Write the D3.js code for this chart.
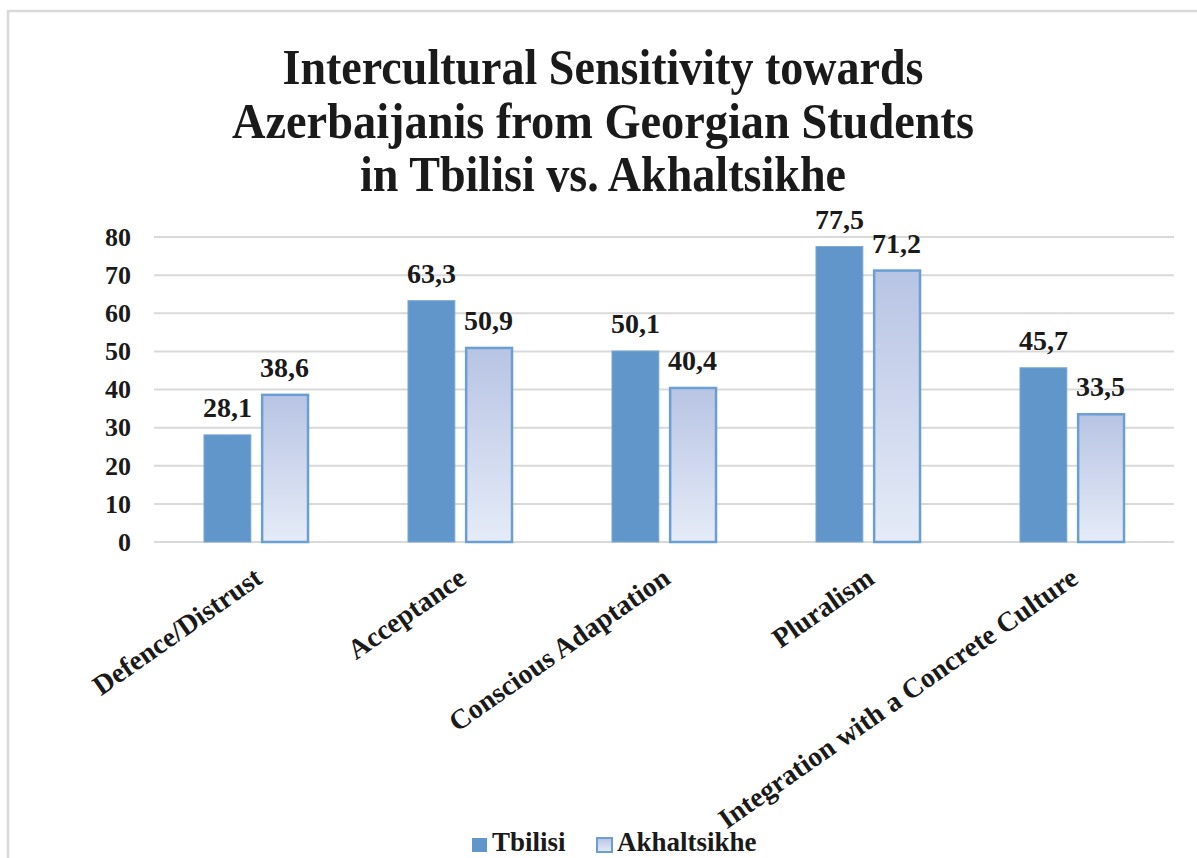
<!DOCTYPE html>
<html><head><meta charset="utf-8">
<script src="https://cdn.jsdelivr.net/npm/d3@7"></script>
<style>
html,body{margin:0;padding:0;background:#fff;}
text{font-family:"Liberation Serif","Times New Roman",serif;font-weight:bold;fill:#1a1a1a;}
</style></head>
<body>
<svg id="chart" width="1197" height="858"></svg>
<script>
const titleLines = ["Intercultural Sensitivity towards", "Azerbaijanis from Georgian Students", "in Tbilisi vs. Akhaltsikhe"];
const categories = ["Defence/Distrust", "Acceptance", "Conscious Adaptation", "Pluralism", "Integration with a Concrete Culture"];
const seriesNames = ["Tbilisi", "Akhaltsikhe"];
const tbilisi = [28.1, 63.3, 50.1, 77.5, 45.7];
const akhaltsikhe = [38.6, 50.9, 40.4, 71.2, 33.5];
const yTicks = [0, 10, 20, 30, 40, 50, 60, 70, 80];

const svg = d3.select("#chart");
const W = 1197, H = 858;
const plot = {left: 154, right: 1174, top: 237, bottom: 542};

const defs = svg.append("defs");
const grad = defs.append("linearGradient").attr("id", "akhGrad")
  .attr("x1", 0).attr("y1", 0).attr("x2", 0).attr("y2", 1);
grad.append("stop").attr("offset", "0%").attr("stop-color", "#b8c4e4");
grad.append("stop").attr("offset", "100%").attr("stop-color", "#e5ebf7");

// frame
svg.append("path").attr("d", `M8,${H} L8,11 L${W},11`).attr("fill", "none")
  .attr("stroke", "#d9d9d9").attr("stroke-width", 2.5);

// title
const titleBaselines = [84, 138, 191];
const titleWidths = [641, 742, 486];
titleLines.forEach((t, i) => {
  svg.append("text").attr("x", 603).attr("y", titleBaselines[i])
    .attr("text-anchor", "middle").attr("font-size", 51)
    .attr("textLength", titleWidths[i]).attr("lengthAdjust", "spacingAndGlyphs")
    .text(t);
});

const y = d3.scaleLinear().domain([0, 80]).range([plot.bottom, plot.top]);
const x0 = d3.scaleBand().domain(categories).range([plot.left, plot.right])
  .paddingInner(0.49).paddingOuter(0.245);
const x1 = d3.scaleBand().domain(seriesNames).range([0, x0.bandwidth()]).paddingInner(0.18);

// gridlines
svg.append("g").selectAll("line").data(yTicks).join("line")
  .attr("x1", plot.left).attr("x2", plot.right)
  .attr("y1", d => y(d)).attr("y2", d => y(d))
  .attr("stroke", "#d9d9d9").attr("stroke-width", 2);

// y axis labels
const yAxis = d3.axisLeft(y).tickValues(yTicks).tickSize(0).tickPadding(0).tickFormat(d3.format("d"));
const gy = svg.append("g").attr("transform", "translate(131,0)").call(yAxis);
gy.select(".domain").remove();
gy.selectAll("text").attr("font-size", 26).attr("fill", "#1a1a1a")
  .style("font-family", '"Liberation Serif","Times New Roman",serif').style("font-weight", "bold");

const fmt = v => d3.format(".1f")(v).replace(".", ",");
const data = categories.map((c, i) => ({cat: c, vals: [
  {s: "Tbilisi", v: tbilisi[i]}, {s: "Akhaltsikhe", v: akhaltsikhe[i]}]}));

const groups = svg.append("g").selectAll("g").data(data).join("g")
  .attr("transform", d => `translate(${x0(d.cat)},0)`);

groups.selectAll("rect").data(d => d.vals).join("rect")
  .attr("x", d => x1(d.s) + (d.s === "Akhaltsikhe" ? 1 : 0))
  .attr("width", d => x1.bandwidth() - (d.s === "Akhaltsikhe" ? 1 : 0))
  .attr("y", d => y(d.v))
  .attr("height", d => y(0) - y(d.v))
  .attr("fill", d => d.s === "Tbilisi" ? "#6096c9" : "url(#akhGrad)")
  .attr("stroke", d => d.s === "Tbilisi" ? "#7aa9d6" : "#6b9fd4")
  .attr("stroke-width", d => d.s === "Tbilisi" ? 1 : 2.5);

groups.selectAll("text.lbl").data(d => d.vals).join("text").attr("class", "lbl")
  .attr("x", d => x1(d.s) + x1.bandwidth() / 2)
  .attr("y", d => y(d.v) - 18)
  .attr("text-anchor", "middle").attr("font-size", 28)
  .text(d => fmt(d.v));

// x axis labels
const xAxis = d3.axisBottom(x0).tickSize(0).tickPadding(0);
const gx = svg.append("g").attr("transform", `translate(0,${plot.bottom})`).call(xAxis);
gx.select(".domain").remove();
gx.selectAll(".tick text")
  .attr("y", 0).attr("dy", 0)
  .attr("font-size", 28).attr("fill", "#1a1a1a")
  .style("font-family", '"Liberation Serif","Times New Roman",serif').style("font-weight", "bold")
  .attr("text-anchor", "end")
  .attr("transform", "translate(8,40) rotate(-35)");

// legend
const legend = svg.append("g");
const legendItems = [
  {name: seriesNames[0], x: 472, fill: "#6096c9", sw: 0},
  {name: seriesNames[1], x: 597, fill: "url(#akhGrad)", sw: 2}
];
legendItems.forEach(it => {
  legend.append("rect").attr("x", it.x).attr("y", 838).attr("width", 15).attr("height", 14)
    .attr("fill", it.fill).attr("stroke", it.sw ? "#6b9fd4" : "none").attr("stroke-width", it.sw);
  legend.append("text").attr("x", it.x + 20).attr("y", 851).attr("font-size", 27).text(it.name);
});
</script>
</body></html>
